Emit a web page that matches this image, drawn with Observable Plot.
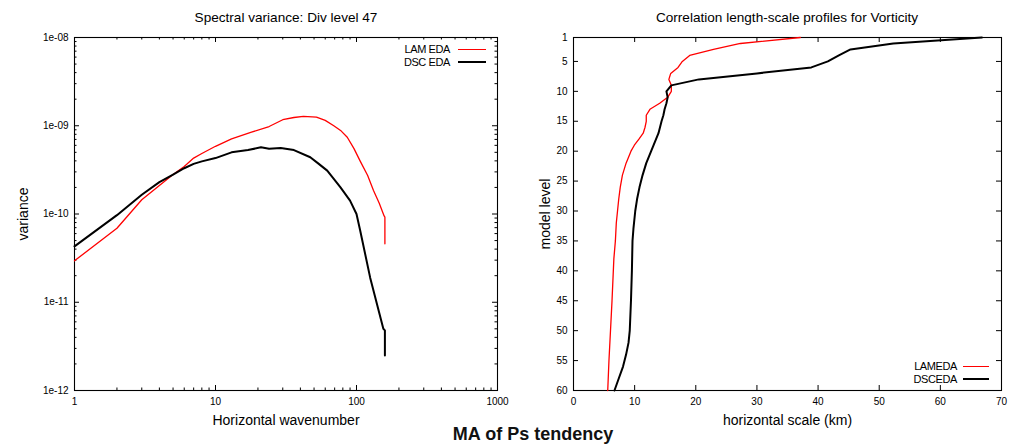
<!DOCTYPE html>
<html>
<head>
<meta charset="utf-8">
<script src="https://cdn.jsdelivr.net/npm/d3@7"></script>
<script src="https://cdn.jsdelivr.net/npm/@observablehq/plot@0.6"></script>
<style>
  body { margin: 0; background: #fff; }
  #wrap { position: relative; width: 1018px; height: 445px; overflow: hidden; font-family: "Liberation Sans", Arial, sans-serif; color: #000; }
  .panel { position: absolute; top: 0; }
  .title { position: absolute; top: 10px; width: 500px; text-align: center; font-size: 13.6px; line-height: 15px; }
  .leg { position: absolute; font-size: 11px; line-height: 12.5px; }
  .leg .row { display: flex; align-items: center; justify-content: flex-end; height: 12.5px; letter-spacing: -0.4px; }
  .leg .sw { display: inline-block; width: 28px; margin-left: 8px; }
  #caption { position: absolute; left: 233px; width: 600px; top: 424px; text-align: center; font-weight: bold; font-size: 18px; line-height: 20px; color: #111; }
  [aria-label="x-axis label"], [aria-label="y-axis label"] { font-size: 14px; }
</style>
</head>
<body>
<div id="wrap">
  <div class="title" style="left:36px;">Spectral variance: Div level 47</div>
  <div class="title" style="left:537px;">Correlation length-scale profiles for Vorticity</div>
  <div class="panel" id="left" style="left:0;"></div>
  <div class="panel" id="right" style="left:509px;"></div>
  <div class="leg" style="left:380px; top:43px; width:106px;">
    <div class="row"><span>LAM EDA</span><span class="sw" style="border-top:1.4px solid #ff0000;"></span></div>
    <div class="row"><span>DSC EDA</span><span class="sw" style="border-top:2.2px solid #000;"></span></div>
  </div>
  <div class="leg" style="left:880px; top:360px; width:109px;">
    <div class="row"><span>LAMEDA</span><span class="sw" style="border-top:1.4px solid #ff0000;width:26px;margin-left:6px;"></span></div>
    <div class="row"><span>DSCEDA</span><span class="sw" style="border-top:2.2px solid #000;width:26px;margin-left:6px;"></span></div>
  </div>
  <div id="caption">MA of Ps tendency</div>
</div>
<script>
// ---------- Left panel: spectral variance ----------
const lamWavenumber = [1, 2, 3, 4, 5, 6, 7, 8, 10, 13, 18, 24, 30, 36, 42, 52, 60, 69, 78, 86, 96, 106, 120, 132, 145, 157, 159, 159];
const lamVariance = [2.95e-11, 6.9e-11, 1.45e-10, 2.1e-10, 2.8e-10, 3.45e-10, 4.3e-10, 4.85e-10, 5.85e-10, 7.1e-10, 8.45e-10, 9.8e-10, 1.17e-9, 1.24e-9, 1.28e-9, 1.25e-9, 1.15e-9, 1.0e-9, 8.7e-10, 7.4e-10, 5.5e-10, 4.0e-10, 2.73e-10, 1.85e-10, 1.32e-10, 9.5e-11, 9.2e-11, 4.6e-11];

const dscWavenumber = [1, 2, 3, 4, 5, 6, 7, 8, 10, 13, 17, 21, 24, 29, 36, 47, 54, 62, 69, 77, 90, 100, 106, 125, 155, 159, 159];
const dscVariance = [4.3e-11, 9.7e-11, 1.65e-10, 2.3e-10, 2.8e-10, 3.3e-10, 3.7e-10, 3.95e-10, 4.3e-10, 5.0e-10, 5.3e-10, 5.7e-10, 5.5e-10, 5.6e-10, 5.3e-10, 4.4e-10, 3.7e-10, 3.1e-10, 2.5e-10, 2.0e-10, 1.42e-10, 1.0e-10, 6.6e-11, 1.9e-11, 5.0e-12, 4.8e-12, 2.5e-12];

const specXTicks = [1, 10, 100, 1000];
const specXTickLabels = ["1", "10", "100", "1000"];
const specXMinorTicks = [2, 3, 4, 5, 6, 7, 8, 9, 20, 30, 40, 50, 60, 70, 80, 90, 200, 300, 400, 500, 600, 700, 800, 900];
const specYTicks = [1e-12, 1e-11, 1e-10, 1e-9, 1e-8];
const specYTickLabels = ["1e-12", "1e-11", "1e-10", "1e-09", "1e-08"];
const specYMinorMantissa = [2, 3, 4, 5, 6, 7, 8, 9];
const specYMinorTicks = [1e-12, 1e-11, 1e-10, 1e-9].flatMap(d => specYMinorMantissa.map(m => m * d));

// ---------- Right panel: correlation length-scale profiles ----------
const lamLevel = [1, 2, 3, 4, 5, 6, 7, 8, 9, 10, 11, 12, 13, 14, 15, 16, 17, 18, 19, 20, 21, 22, 24, 26, 28, 30, 32, 35, 38, 45, 50, 55, 60];
const lamScale = [37.1, 27.3, 22.9, 19.0, 17.8, 17.1, 15.9, 15.6, 16.0, 16.0, 15.4, 14.1, 12.5, 11.9, 11.9, 11.7, 11.4, 10.7, 9.95, 9.4, 9.0, 8.6, 8.0, 7.65, 7.4, 7.2, 7.0, 6.85, 6.6, 6.3, 6.05, 5.8, 5.6];

const dscLevel = [1, 2, 3, 4, 5, 6, 7, 8, 9, 10, 11, 12, 13, 14, 15, 17, 19, 20, 22, 24, 26, 28, 30, 33, 35, 40, 45, 50, 52, 54, 56, 58, 60];
const dscScale = [66.8, 52.3, 45.3, 43.4, 41.6, 38.9, 30.0, 20.5, 16.0, 15.2, 15.4, 15.2, 14.9, 14.7, 14.4, 13.9, 13.1, 12.7, 11.9, 11.3, 10.8, 10.4, 10.1, 9.8, 9.65, 9.55, 9.4, 9.2, 9.0, 8.6, 8.1, 7.4, 6.7];

const profXTicks = [0, 10, 20, 30, 40, 50, 60, 70];
const profYTicks = [1, 5, 10, 15, 20, 25, 30, 35, 40, 45, 50, 55, 60];

const lamColor = "#ff0000";
const dscColor = "#000000";
const fontFamily = "'Liberation Sans', Arial, sans-serif";

const specLam = lamWavenumber.map((k, i) => ({k, v: lamVariance[i]}));
const specDsc = dscWavenumber.map((k, i) => ({k, v: dscVariance[i]}));
const profLam = lamLevel.map((lev, i) => ({lev, km: lamScale[i]}));
const profDsc = dscLevel.map((lev, i) => ({lev, km: dscScale[i]}));

const baseStyle = {fontFamily, fontSize: "10px", background: "transparent", color: "#000", overflow: "visible"};

const W = 509, H = 430, MT = 37, MB = 40;
const FH = H - MT - MB;  // frame height

// inward gnuplot-style ticks on all four sides, drawn as short rules inset from the frame
function inwardTicks(xTicks, yTicks, len, frameW) {
  return [
    Plot.ruleX(xTicks, {x: d => d, insetTop: FH - len, stroke: "#000"}),
    Plot.ruleX(xTicks, {x: d => d, insetBottom: FH - len, stroke: "#000"}),
    Plot.ruleY(yTicks, {y: d => d, insetRight: frameW - len, stroke: "#000"}),
    Plot.ruleY(yTicks, {y: d => d, insetLeft: frameW - len, stroke: "#000"})
  ];
}

const leftML = 74, leftMR = 12, leftFW = W - leftML - leftMR;
const leftPlot = Plot.plot({
  width: W, height: H,
  marginLeft: leftML, marginRight: leftMR, marginTop: MT, marginBottom: MB,
  style: baseStyle,
  x: {type: "log", domain: [1, 1000]},
  y: {type: "log", domain: [1e-12, 1e-8]},
  marks: [
    ...inwardTicks(specXTicks, specYTicks, 5, leftFW),
    ...inwardTicks(specXMinorTicks, specYMinorTicks, 2.5, leftFW),
    Plot.axisX({anchor: "bottom", ticks: specXTicks, tickSize: 0, tickPadding: 7,
      tickFormat: d => specXTickLabels[specXTicks.indexOf(d)],
      label: "Horizontal wavenumber", labelAnchor: "center", labelArrow: "none", labelOffset: 34}),
    Plot.axisY({anchor: "left", ticks: specYTicks, tickSize: 0, tickPadding: 6,
      tickFormat: d => specYTickLabels[specYTicks.indexOf(d)],
      label: "variance", labelAnchor: "center", labelArrow: "none", labelOffset: 56}),
    Plot.frame({stroke: "#000", strokeWidth: 1.1}),
    Plot.line(specLam, {x: "k", y: "v", stroke: lamColor, strokeWidth: 1.3}),
    Plot.line(specDsc, {x: "k", y: "v", stroke: dscColor, strokeWidth: 2})
  ]
});
document.getElementById("left").appendChild(leftPlot);

const rightML = 64, rightMR = 17, rightFW = W - rightML - rightMR;
const rightPlot = Plot.plot({
  width: W, height: H,
  marginLeft: rightML, marginRight: rightMR, marginTop: MT, marginBottom: MB,
  style: baseStyle,
  x: {domain: [0, 70]},
  y: {domain: [1, 60], reverse: true},
  marks: [
    ...inwardTicks(profXTicks, profYTicks, 5, rightFW),
    Plot.axisX({anchor: "bottom", ticks: profXTicks, tickSize: 0, tickPadding: 7, tickFormat: d => String(d),
      label: "horizontal scale (km)", labelAnchor: "center", labelArrow: "none", labelOffset: 34}),
    Plot.axisY({anchor: "left", ticks: profYTicks, tickSize: 0, tickPadding: 6, tickFormat: d => String(d),
      label: "model level", labelAnchor: "center", labelArrow: "none", labelOffset: 33}),
    Plot.frame({stroke: "#000", strokeWidth: 1.1}),
    Plot.line(profLam, {x: "km", y: "lev", stroke: lamColor, strokeWidth: 1.3}),
    Plot.line(profDsc, {x: "km", y: "lev", stroke: dscColor, strokeWidth: 2})
  ]
});
document.getElementById("right").appendChild(rightPlot);
</script>
</body>
</html>
